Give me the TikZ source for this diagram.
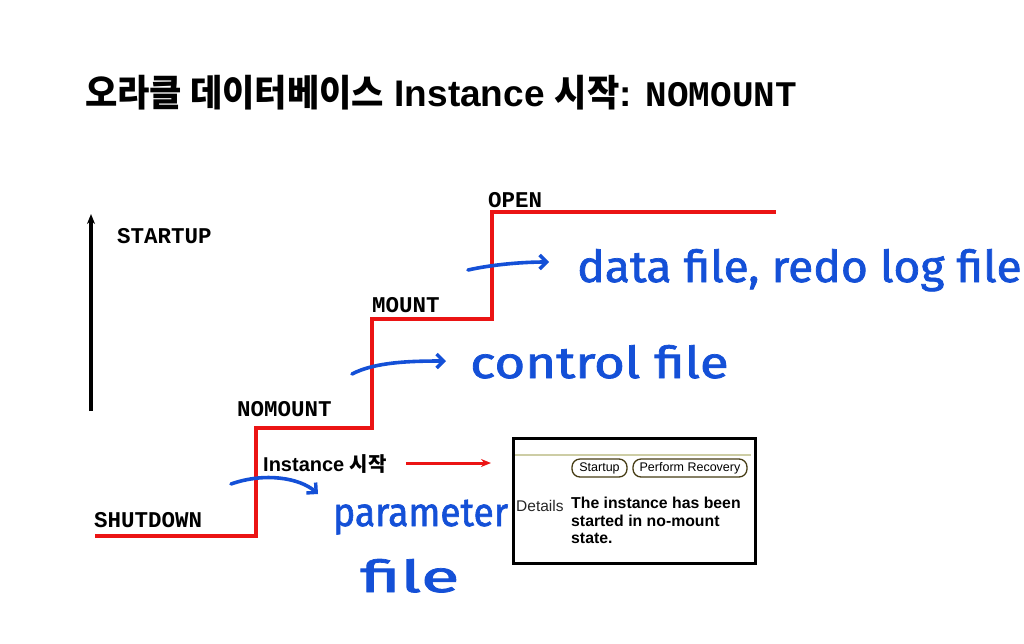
\documentclass[tikz,border=0pt]{standalone}
\usepackage{fontspec}
\setmainfont{Liberation Sans}
\setmonofont{Liberation Mono}
\newfontfamily\kr{Noto Sans CJK KR}
\newfontfamily\handfont{Fira Sans}[BoldFont={Fira Sans}, BoldFeatures={FakeBold=1.6}]
\usetikzlibrary{arrows.meta}
\definecolor{handblue}{RGB}{20,80,215}
\definecolor{stepred}{RGB}{235,20,20}
\definecolor{oliveline}{RGB}{205,205,165}
\definecolor{btnedge}{RGB}{70,60,20}
\newcommand\krc[1]{\scalebox{0.95}[1]{\kr #1}}
\tikzset{
  steplab/.style={anchor=base west, inner sep=0, font=\ttfamily\bfseries\fontsize{22.5}{26}\selectfont},
  handtxt/.style={anchor=base west, inner sep=0, text=handblue, font=\handfont\bfseries\fontsize{44}{50}\selectfont},
  handarrow/.style={handblue, line width=3.6, line cap=round, -{Straight Barb[length=7,width=14,line width=3.4]}},
  btn/.style={draw=btnedge, line width=1.3, rounded corners=8, fill=white, inner sep=0, minimum height=18, font=\fontsize{12.5}{14}\selectfont},
}
\begin{document}
\begin{tikzpicture}[x=1pt,y=-1pt]
\useasboundingbox (0,0) rectangle (1024,643);
% title
\node[anchor=base west, inner sep=0] (title) at (85,106)
  {\fontsize{37}{44}\selectfont\bfseries\krc{오라클 데이터베이스} Instance \krc{시작}: {\ttfamily\fontsize{36}{40}\selectfont NOMOUNT}};
% startup arrow
\coordinate (up0) at (91,411);
\coordinate (up1) at (91,214);
\draw[line width=3.2, -{Stealth[length=10,width=8]}] (up0) -- (up1);
\node[steplab] (startup) at (117,243) {STARTUP};
% red steps
\coordinate (p0) at (95,536);
\coordinate (p1) at (256,536);
\coordinate (p2) at (256,428);
\coordinate (p3) at (372,428);
\coordinate (p4) at (372,319);
\coordinate (p5) at (492,319);
\coordinate (p6) at (492,212);
\coordinate (p7) at (776,212);
\draw[stepred, line width=4] (p0)--(p1)--(p2)--(p3)--(p4)--(p5)--(p6)--(p7);
\node[steplab] (shutdown) at (94,527) {SHUTDOWN};
\node[steplab] (nomount) at (237,416) {NOMOUNT};
\node[steplab] (mount) at (372,312) {MOUNT};
\node[steplab] (open) at (488,207) {OPEN};
% instance start
\node[anchor=base west, inner sep=0, font=\bfseries\fontsize{20}{24}\selectfont] (inst) at (263,471) {Instance {\kr 시작}};
% box
\node[draw, line width=2.8, minimum width=242, minimum height=125, anchor=north west, inner sep=0] (box) at (512,437) {};
\coordinate (ia) at (406,463);
\coordinate (ib) at (491,463);
\draw[stepred, line width=3, -{Stealth[length=10,width=8]}] (ia) -- (ib);
\coordinate (ol0) at (515,455);
\coordinate (ol1) at (751,455);
\draw[oliveline, line width=1.2] (ol0) -- (ol1);
\node[btn, minimum width=55] (b1) at (599.5,468) {Startup};
\node[btn, minimum width=114] (b2) at (690,468) {Perform Recovery};
\node[anchor=base west, inner sep=0, text=black!85, font=\fontsize{15.5}{18}\selectfont] (det) at (516,511) {Details};
\node[anchor=north west, inner sep=0, align=left, font=\bfseries\fontsize{15.8}{17.5}\selectfont] (msg) at (571,497) {The instance has been\\started in no-mount\\state.};
% handwritten notes
\coordinate (h1a) at (231,484);
\coordinate (h1b) at (318,494);
\draw[handarrow] (h1a) .. controls (265,472) and (300,478) .. (h1b);
\node[handtxt, font=\handfont\bfseries\fontsize{40}{46}\selectfont] (param) at (333,526) {\scalebox{0.93}[1]{parameter}};
\node[handtxt] (pfile) at (360,592) {\scalebox{1.6}[1]{file}};
\coordinate (h2a) at (352,374);
\coordinate (h2b) at (446,361);
\draw[handarrow] (h2a) .. controls (375,362) and (410,361) .. (h2b);
\node[handtxt] (cfile) at (470,378) {\scalebox{1.2}[1]{control file}};
\coordinate (h3a) at (468,270);
\coordinate (h3b) at (549,262);
\draw[handarrow] (h3a) .. controls (490,265) and (520,262) .. (h3b);
\node[handtxt] (dfile) at (577,282) {\scalebox{1.05}[1]{data file, redo log file}};
\end{tikzpicture}
\end{document}
